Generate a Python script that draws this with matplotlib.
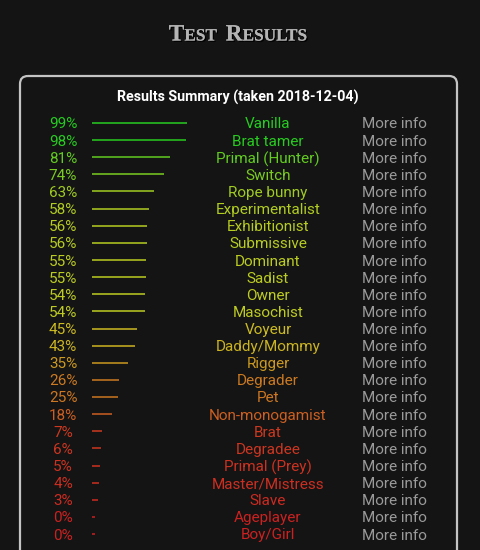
import colorsys
import matplotlib
matplotlib.use("Agg")
import matplotlib.pyplot as plt
from matplotlib import transforms
from matplotlib.patches import FancyBboxPatch
import matplotlib.patheffects as pe

# ---------------- data ----------------
categories = ["Vanilla", "Brat tamer", "Primal (Hunter)", "Switch", "Rope bunny",
              "Experimentalist", "Exhibitionist", "Submissive", "Dominant", "Sadist",
              "Owner", "Masochist", "Voyeur", "Daddy/Mommy", "Rigger", "Degrader",
              "Pet", "Non-monogamist", "Brat", "Degradee", "Primal (Prey)",
              "Master/Mistress", "Slave", "Ageplayer", "Boy/Girl"]
percent = [99, 98, 81, 74, 63, 58, 56, 56, 55, 55, 54, 54, 45, 43, 35, 26, 25, 18,
           7, 6, 5, 4, 3, 0, 0]
title_text = "Test Results"
subtitle_text = "Results Summary (taken 2018-12-04)"
link_text = "More info"

# ---------------- style ----------------
W, H, DPI = 480, 550, 100
BG = "#141414"
FONT = "Roboto"


def pct_color(p):
    r, g, b = colorsys.hls_to_rgb(p * 1.2 / 360.0, 0.465, 0.72)
    return (r, g, b)


fig = plt.figure(figsize=(W / DPI, H / DPI), dpi=DPI, facecolor=BG)

# overlay axes in pixel coordinates (for decoration only)
ov = fig.add_axes([0, 0, 1, 1])
ov.set_xlim(0, W)
ov.set_ylim(H, 0)
ov.axis("off")
ov.set_facecolor(BG)

# results box
box = FancyBboxPatch((20, 76), 437, 600, boxstyle="round,pad=0,rounding_size=8",
                     facecolor="none", edgecolor="#c4c4c4", lw=1.6, clip_on=True, zorder=2)
ov.add_patch(box)

# bar axes: x in percent, y in row index
n = len(categories)
row0_px, rowstep_px = 123.0, 17.125
bar_left_px, px_per_pct = 95.0, 0.93
top_px = row0_px - rowstep_px / 2
height_px = rowstep_px * n
ax = fig.add_axes([bar_left_px / W, 1 - (top_px + height_px) / H,
                   100 * px_per_pct / W, height_px / H])
ax.set_xlim(0, 100)
ax.set_ylim(n - 0.5, -0.5)
ax.axis("off")
ax.patch.set_alpha(0)

rows = list(range(n))
colors = [pct_color(p) for p in percent]
ax.hlines(rows, [-3.2] * n, percent, colors=colors, lw=1.1, clip_on=False)

tr = transforms.blended_transform_factory(fig.transFigure, ax.transData)
fs = 11
for i, (c, p) in enumerate(zip(categories, percent)):
    col = colors[i]
    fig.text(63 / W, i, f"{p}%", transform=tr, ha="center", va="center_baseline",
             color=col, fontsize=fs, family=FONT)
    fig.text(268 / W, i, c, transform=tr, ha="center", va="center_baseline",
             color=col, fontsize=fs, family=FONT)
    fig.text(362 / W, i, link_text, transform=tr, ha="left", va="center_baseline",
             color="#9a9a9a", fontsize=fs, family=FONT)

# subtitle
fig.text(238 / W, 1 - 96 / H, subtitle_text, ha="center", va="center_baseline",
         color="white", fontsize=10.3, family=FONT, fontweight="bold")

# title in small caps
renderer = fig.canvas.get_renderer()
pieces = []
for word_i, word in enumerate(title_text.split()):
    pieces.append((word[0], 16.8))
    pieces.append((word[1:].upper() + (" " if word_i == 0 else ""), 12.4))
texts = []
for s, size in pieces:
    t = fig.text(0, 0, s, fontsize=size, family="Liberation Serif", fontweight="bold",
                 color="#b4b4b4", ha="left", va="baseline",
                 path_effects=[pe.withSimplePatchShadow(offset=(1, -1), shadow_rgbFace="black", alpha=0.9),
                               pe.Normal()])
    texts.append(t)
widths = [t.get_window_extent(renderer).width for t in texts]
space_w = 4.5
total = sum(widths) + space_w
x = 238 - total / 2
base_y = 1 - 40.5 / H
for t, w, (s, _) in zip(texts, widths, pieces):
    t.set_position((x / W, base_y))
    x += w + (space_w if s.endswith(" ") else 0)

fig.savefig("out.png", dpi=DPI, facecolor=BG)
